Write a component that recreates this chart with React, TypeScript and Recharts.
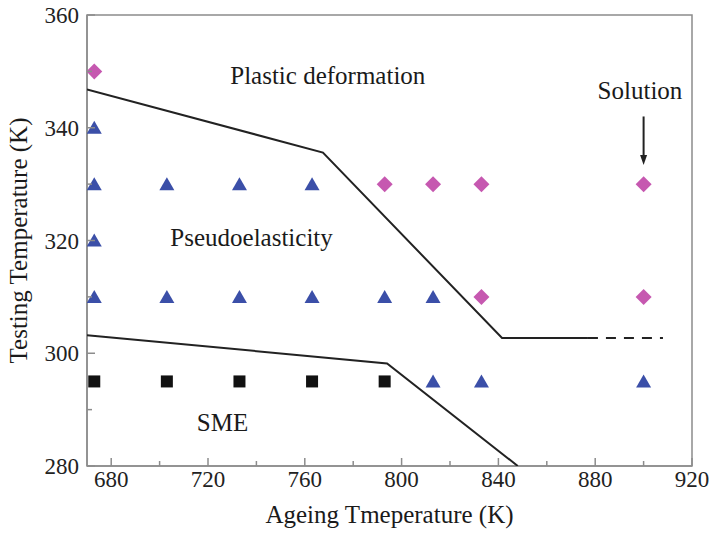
import React from 'react';
import {
  ComposedChart,
  Scatter,
  XAxis,
  YAxis,
  ReferenceArea,
  ReferenceLine,
  ReferenceDot,
} from 'recharts';

// measured points (K)
const triangles = [
  { x: 673, y: 340 },
  { x: 673, y: 330 },
  { x: 703, y: 330 },
  { x: 733, y: 330 },
  { x: 763, y: 330 },
  { x: 673, y: 320 },
  { x: 673, y: 310 },
  { x: 703, y: 310 },
  { x: 733, y: 310 },
  { x: 763, y: 310 },
  { x: 793, y: 310 },
  { x: 813, y: 310 },
  { x: 813, y: 295 },
  { x: 833, y: 295 },
  { x: 900, y: 295 },
];

const diamonds = [
  { x: 673, y: 350 },
  { x: 793, y: 330 },
  { x: 813, y: 330 },
  { x: 833, y: 330 },
  { x: 900, y: 330 },
  { x: 833, y: 310 },
  { x: 900, y: 310 },
];

const squares = [
  { x: 673, y: 295 },
  { x: 703, y: 295 },
  { x: 733, y: 295 },
  { x: 763, y: 295 },
  { x: 793, y: 295 },
];

// phase boundaries
const upperBoundary = [
  { x: 670, y: 346.8 },
  { x: 767.5, y: 335.6 },
  { x: 841.5, y: 302.7 },
  { x: 877, y: 302.7 },
];
const upperDashed = [
  { x: 877, y: 302.7 },
  { x: 908, y: 302.7 },
];
const lowerBoundary = [
  { x: 670, y: 303.2 },
  { x: 794, y: 298.2 },
  { x: 848, y: 280 },
];

const xTicks = [680, 700, 720, 740, 760, 780, 800, 820, 840, 860, 880, 900, 920];
const xLabels = [680, 720, 760, 800, 840, 880, 920];
const yTicks = [280, 290, 300, 310, 320, 330, 340, 350, 360];
const yLabels = [280, 300, 320, 340, 360];

const FONT = 'Liberation Serif';
const AXIS = '#8c8c8c';
const BLUE = '#3b4fa8';
const PINK = '#c658b0';

const XTick = (props: any) => {
  const { x, y, payload } = props;
  const major = xLabels.includes(payload.value);
  return (
    <g>
      <line x1={x} x2={x} y1={y} y2={y - (major ? 8 : 5)} stroke={AXIS} strokeWidth={1.5} />
      {major && (
        <text x={x} y={y + 21} textAnchor="middle" fill="#222" style={{ fontSize: 23, fontFamily: FONT }}>
          {payload.value}
        </text>
      )}
    </g>
  );
};

const YTick = (props: any) => {
  const { x, y, payload } = props;
  const major = yLabels.includes(payload.value);
  return (
    <g>
      <line x1={x} x2={x + (major ? 8 : 5)} y1={y} y2={y} stroke={AXIS} strokeWidth={1.5} />
      {major && (
        <text x={x - 8} y={y} dy="0.35em" textAnchor="end" fill="#222" style={{ fontSize: 23, fontFamily: FONT }}>
          {payload.value}
        </text>
      )}
    </g>
  );
};

const Triangle = ({ cx, cy }: any) => (
  <polygon points={`${cx},${cy - 7} ${cx + 7.5},${cy + 6} ${cx - 7.5},${cy + 6}`} fill={BLUE} />
);

const Diamond = ({ cx, cy }: any) => (
  <polygon points={`${cx},${cy - 8} ${cx + 8},${cy} ${cx},${cy + 8} ${cx - 8},${cy}`} fill={PINK} />
);

const Square = ({ cx, cy }: any) => <rect x={cx - 6} y={cy - 6} width={12} height={12} fill="#111" />;

const NoShape = () => <g />;

const makeText = (text: string) => ({ cx, cy }: any) => (
  <text x={cx} y={cy} dy="0.35em" textAnchor="middle" fill="#1a1a1a" style={{ fontSize: 25, fontFamily: FONT }}>
    {text}
  </text>
);

const ArrowHead = ({ cx, cy }: any) => (
  <polygon points={`${cx},${cy} ${cx - 3.5},${cy - 10} ${cx + 3.5},${cy - 10}`} fill="#222" />
);

export default function App() {
  return (
    <div style={{ position: 'absolute', left: 0, top: 0, width: 711, height: 536, background: '#fff' }}>
      <ComposedChart width={711} height={536} margin={{ top: 15, right: 19, left: 0, bottom: 0 }}>
        <XAxis
          type="number"
          dataKey="x"
          domain={[670, 920]}
          ticks={xTicks}
          interval={0}
          allowDataOverflow
          height={70}
          tickSize={0}
          tickMargin={0}
          tickLine={false}
          axisLine={{ stroke: AXIS, strokeWidth: 1.5 }}
          tick={<XTick />}
          label={{
            value: 'Ageing Tmeperature (K)',
            position: 'insideBottom',
            offset: 13,
            style: { fontSize: 25, fontFamily: FONT, fill: '#1a1a1a' },
          }}
        />
        <YAxis
          type="number"
          dataKey="y"
          domain={[280, 360]}
          ticks={yTicks}
          interval={0}
          allowDataOverflow
          width={87}
          tickSize={0}
          tickMargin={0}
          tickLine={false}
          axisLine={{ stroke: AXIS, strokeWidth: 1.5 }}
          tick={<YTick />}
          label={{
            value: 'Testing Temperature (K)',
            angle: -90,
            position: 'insideLeft',
            offset: 18,
            style: { textAnchor: 'middle', fontSize: 25, fontFamily: FONT, fill: '#1a1a1a' },
          }}
        />
        <ReferenceArea x1={670} x2={920} y1={280} y2={360} fill="none" stroke={AXIS} strokeWidth={1.5} />

        <Scatter data={upperBoundary} shape={NoShape} line={{ stroke: '#222', strokeWidth: 2 }} isAnimationActive={false} />
        <Scatter
          data={upperDashed}
          shape={NoShape}
          line={{ stroke: '#222', strokeWidth: 2, strokeDasharray: '10 8' }}
          isAnimationActive={false}
        />
        <Scatter data={lowerBoundary} shape={NoShape} line={{ stroke: '#222', strokeWidth: 2 }} isAnimationActive={false} />

        <Scatter data={triangles} shape={Triangle} isAnimationActive={false} />
        <Scatter data={diamonds} shape={Diamond} isAnimationActive={false} />
        <Scatter data={squares} shape={Square} isAnimationActive={false} />

        <ReferenceLine segment={[{ x: 900, y: 342 }, { x: 900, y: 335 }]} stroke="#222" strokeWidth={2} />
        <ReferenceDot x={900} y={333.4} shape={ArrowHead} />

        <ReferenceDot x={769.5} y={349.4} shape={makeText('Plastic deformation')} />
        <ReferenceDot x={738} y={320.6} shape={makeText('Pseudoelasticity')} />
        <ReferenceDot x={726} y={287.7} shape={makeText('SME')} />
        <ReferenceDot x={898.5} y={346.7} shape={makeText('Solution')} />
      </ComposedChart>
    </div>
  );
}
